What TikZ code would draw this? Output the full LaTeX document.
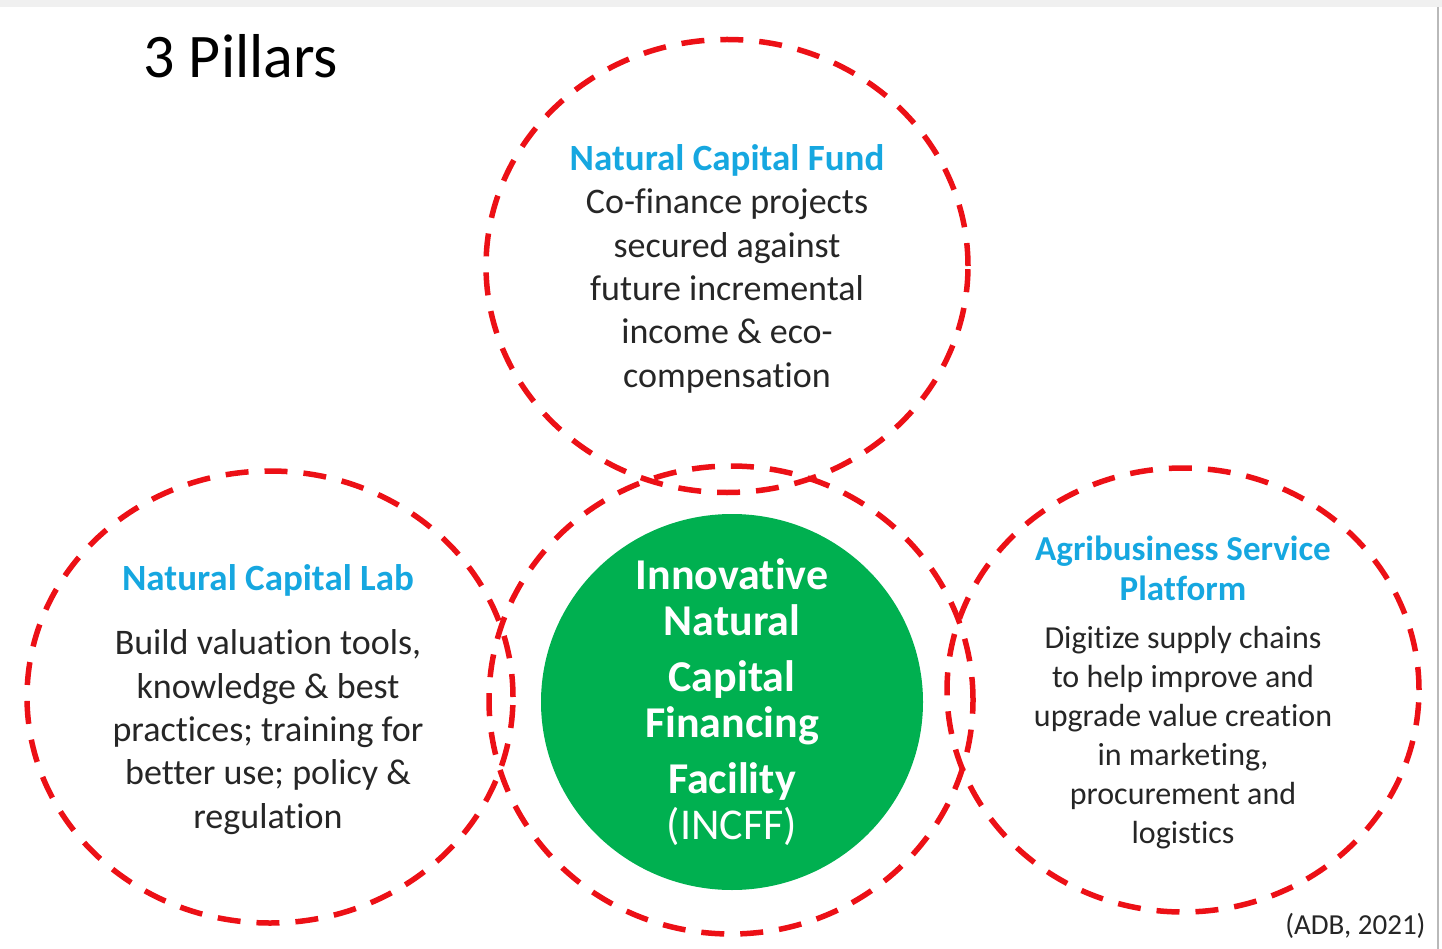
\documentclass[tikz,border=0pt]{standalone}
\usepackage{fontspec}
\setmainfont{Carlito}[Ligatures=NoCommon]
\usetikzlibrary{positioning}
\usetikzlibrary{shapes.geometric}
\definecolor{pillarred}{RGB}{236,16,22}
\definecolor{pillarblue}{RGB}{22,167,224}
\definecolor{pillargreen}{RGB}{0,176,80}
\definecolor{bodygray}{RGB}{38,38,38}

\begin{document}
\begin{tikzpicture}[x=1pt, y=-1pt,
                pillarnode/.style={ellipse, draw=pillarred, line width=5.5pt, dash pattern=on 23pt off 16pt, inner sep=0pt},
                hubnode/.style={ellipse, fill=pillargreen, inner sep=0pt, minimum width=382pt, minimum height=376pt},
                titletext/.style={align=center, text=pillarblue, font=\bfseries\fontsize{37}{40}\selectfont},
                bodytext/.style={align=center, text=bodygray, font=\fontsize{36}{43.4}\selectfont},
                smalltext/.style={align=center, text=bodygray, font=\fontsize{32}{39}\selectfont},
                hubtext/.style={align=center, text=white, font=\bfseries\fontsize{44}{46}\selectfont},
            ]
            \useasboundingbox (0,0) rectangle (1442,949);
            % Frame
            \fill[gray!12] (0,0) rectangle (1442,7);
            \draw[gray!55, line width=1.5pt] (1438,7) -- (1438,949);

            % Circles
            \node[pillarnode, minimum width=482pt, minimum height=453pt]  (fund)     at (727,266)  {};
            \node[pillarnode, minimum width=486pt, minimum height=452pt]  (lab)      at (270,697)  {};
            \node[pillarnode, minimum width=484pt, minimum height=468pt]  (facility) at (731,700)  {};
            \node[pillarnode, minimum width=472pt, minimum height=444pt]  (platform) at (1183,690) {};
            \node[hubnode]                                                 (hub)      at (732,702)  {};

            % Texts
            \node[anchor=west, font=\fontsize{62}{70}\selectfont] (heading) at (140,56) {3 Pillars};

            \node[titletext] (fund_title) at (727,160) {Natural Capital Fund};
            \node[bodytext]  (fund_body)  at (727,291) {Co-finance projects\\secured against\\future incremental\\income \& eco-\\compensation};

            \node[titletext] (lab_title) at (268,580) {Natural Capital Lab};
            \node[bodytext]  (lab_body)  at (268,732) {Build valuation tools,\\knowledge \& best\\practices; training for\\better use; policy \&\\regulation};

            \node[titletext, font=\bfseries\fontsize{35}{40}\selectfont] (platform_title) at (1183,568) {Agribusiness Service\\Platform};
            \node[smalltext] (platform_body)  at (1183,738) {Digitize supply chains\\to help improve and\\upgrade value creation\\in marketing,\\procurement and\\logistics};

            \node[hubtext] (hub_text) at (hub.center) {Innovative\\Natural\\[10pt]Capital\\Financing\\[10pt]Facility\\\mdseries (INCFF)};

            \node[anchor=south east, text=bodygray, font=\fontsize{29}{32}\selectfont] (source) at (1429,942) {(ADB, 2021)};
        \end{tikzpicture}
\end{document}
